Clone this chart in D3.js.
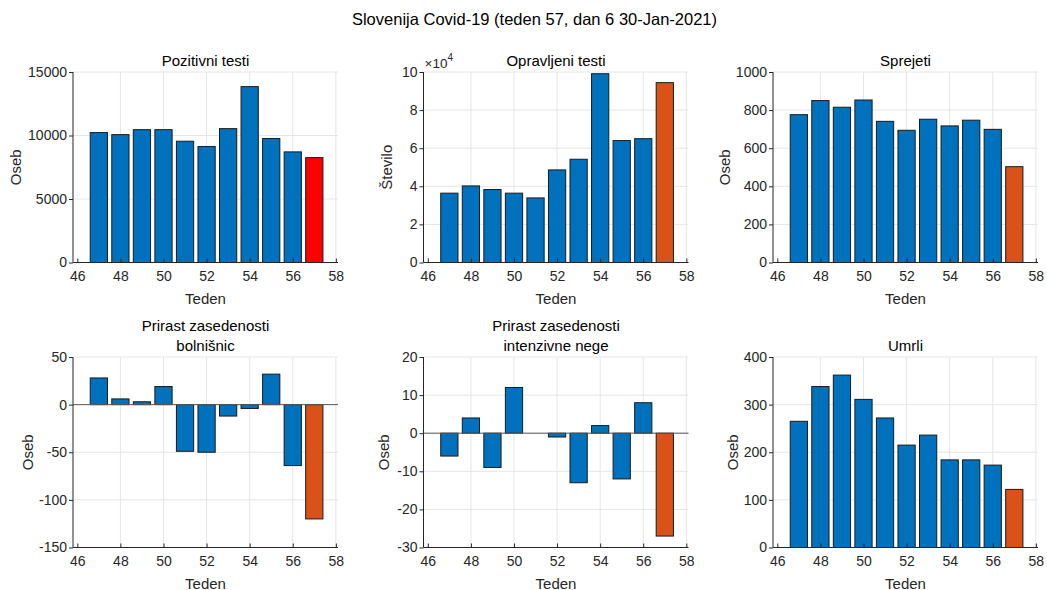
<!DOCTYPE html>
<html>
<head>
<meta charset="utf-8">
<script src="https://cdn.jsdelivr.net/npm/d3@7"></script>
<style>
  html, body { margin: 0; padding: 0; background: #fff; }
  svg { display: block; font-family: "Liberation Sans", Arial, sans-serif; }
</style>
</head>
<body>
<svg id="chart" width="1047" height="590"></svg>
<script>
// Weekly COVID-19 figures for Slovenia, weeks 47–57
const weeks = [47, 48, 49, 50, 51, 52, 53, 54, 55, 56, 57];
const pozitivniTesti = [10230, 10070, 10460, 10460, 9550, 9130, 10540, 13850, 9760, 8710, 8260];
const opravljeniTesti = [36400, 40200, 38300, 36400, 33900, 48600, 54200, 99100, 64000, 65000, 94400];
const sprejeti = [776, 850, 815, 853, 741, 694, 752, 717, 747, 699, 503];
const prirastBolnisnic = [28, 6, 3, 19, -49, -50, -12, -4, 32, -64, -120];
const prirastIntenzivne = [-6, 4, -9, 12, 0, -1, -13, 2, -12, 8, -27];
const umrli = [265, 338, 362, 311, 272, 215, 236, 184, 184, 173, 122];

// Tick labels
const xTicks = [46, 48, 50, 52, 54, 56, 58];
const yTicksPozitivni = [0, 5000, 10000, 15000];
const yTicksOpravljeni = [0, 20000, 40000, 60000, 80000, 100000];
const yTicksSprejeti = [0, 200, 400, 600, 800, 1000];
const yTicksBolnisnic = [-150, -100, -50, 0, 50];
const yTicksIntenzivne = [-30, -20, -10, 0, 10, 20];
const yTicksUmrli = [0, 100, 200, 300, 400];

const mainTitle = "Slovenija Covid-19 (teden 57, dan 6 30-Jan-2021)";
const xLabel = "Teden";

const BLUE = "#0072BD", ORANGE = "#D95319", RED = "#FF0000";
const AXIS = "#262626", GRID = "#e6e6e6";

const panels = [
  { title: ["Pozitivni testi"], ylabel: "Oseb", values: pozitivniTesti, ticks: yTicksPozitivni,
    last: RED, col: 0, row: 0, labelOff: 57 },
  { title: ["Opravljeni testi"], ylabel: "Število", values: opravljeniTesti, ticks: yTicksOpravljeni,
    last: ORANGE, col: 1, row: 0, labelOff: 37, exponent: 4 },
  { title: ["Sprejeti"], ylabel: "Oseb", values: sprejeti, ticks: yTicksSprejeti,
    last: ORANGE, col: 2, row: 0, labelOff: 48 },
  { title: ["Prirast zasedenosti", "bolnišnic"], ylabel: "Oseb", values: prirastBolnisnic, ticks: yTicksBolnisnic,
    last: ORANGE, col: 0, row: 1, labelOff: 45 },
  { title: ["Prirast zasedenosti", "intenzivne nege"], ylabel: "Oseb", values: prirastIntenzivne, ticks: yTicksIntenzivne,
    last: ORANGE, col: 1, row: 1, labelOff: 40 },
  { title: ["Umrli"], ylabel: "Oseb", values: umrli, ticks: yTicksUmrli,
    last: ORANGE, col: 2, row: 1, labelOff: 40 }
];

const colX = [73, 423.5, 773];
const rowY = [72, 357];
const plotW = 265, plotH = 190.5;

// plain hyphen for negative numbers
const intFmt = d => String(Math.round(d));

const svg = d3.select("#chart");

svg.append("text")
  .attr("x", 534.5).attr("y", 25)
  .attr("text-anchor", "middle")
  .attr("font-size", 16.5)
  .attr("fill", "#000")
  .text(mainTitle);

panels.forEach(p => {
  const g = svg.append("g").attr("transform", `translate(${colX[p.col]},${rowY[p.row]})`);
  const x = d3.scaleLinear().domain([45.8, 58.1]).range([0, plotW]);
  const y = d3.scaleLinear().domain(d3.extent(p.ticks)).range([plotH, 0]);
  const bw = x(47.4) - x(46.6);

  // grid
  g.append("g").selectAll("line").data(xTicks.filter(t => t > 46)).join("line")
    .attr("x1", d => x(d)).attr("x2", d => x(d))
    .attr("y1", 0).attr("y2", plotH)
    .attr("stroke", GRID).attr("stroke-width", 1);
  g.append("g").selectAll("line").data(p.ticks.slice(1)).join("line")
    .attr("x1", 0).attr("x2", plotW)
    .attr("y1", d => y(d)).attr("y2", d => y(d))
    .attr("stroke", GRID).attr("stroke-width", 1);

  // bars
  g.append("g").selectAll("rect").data(p.values.map((v, i) => ({ w: weeks[i], v })))
    .join("rect")
    .filter(d => d.v !== 0)
    .attr("x", d => x(d.w) - bw / 2)
    .attr("width", bw)
    .attr("y", d => Math.min(y(d.v), y(0)))
    .attr("height", d => Math.abs(y(d.v) - y(0)))
    .attr("fill", d => d.w === weeks[weeks.length - 1] ? p.last : BLUE)
    .attr("stroke", "#1a1a1a")
    .attr("stroke-width", 1);

  // baseline at zero for signed data
  if (p.ticks[0] < 0) {
    g.append("line")
      .attr("x1", 0).attr("x2", plotW)
      .attr("y1", y(0)).attr("y2", y(0))
      .attr("stroke", "#5a5a5a").attr("stroke-width", 1);
  }

  // axes
  const fmt = p.exponent ? (d => intFmt(d / Math.pow(10, p.exponent))) : intFmt;
  const yAxis = g.append("g")
    .call(d3.axisLeft(y).tickValues(p.ticks).tickFormat(fmt).tickSize(4).tickPadding(2));
  const xAxis = g.append("g").attr("transform", `translate(0,${plotH})`)
    .call(d3.axisBottom(x).tickValues(xTicks).tickFormat(intFmt).tickSize(-4).tickPadding(9));
  [yAxis, xAxis].forEach(a => {
    a.select(".domain").attr("stroke", AXIS).attr("stroke-width", 1);
    a.selectAll(".tick line").attr("stroke", AXIS);
    a.selectAll(".tick text").attr("fill", AXIS)
      .attr("font-size", 14).attr("font-family", "Liberation Sans, Arial, sans-serif");
  });
  yAxis.select(".domain").attr("d", `M0,${plotH}V0`);
  xAxis.select(".domain").attr("d", `M0,0H${plotW}`);

  if (p.exponent) {
    const e = g.append("text").attr("x", 1).attr("y", -4)
      .attr("font-size", 13.5).attr("fill", AXIS);
    e.append("tspan").text("×10");
    e.append("tspan").attr("font-size", 10).attr("dy", -7).text(p.exponent);
  }

  // titles
  const t = g.append("text")
    .attr("x", plotW / 2)
    .attr("text-anchor", "middle")
    .attr("font-size", 15)
    .attr("fill", "#000");
  const n = p.title.length;
  p.title.forEach((line, i) => {
    t.append("tspan").attr("x", plotW / 2)
      .attr("y", -6 - (n - 1 - i) * 20)
      .text(line);
  });

  // axis labels
  g.append("text")
    .attr("x", plotW / 2).attr("y", plotH + 41)
    .attr("text-anchor", "middle")
    .attr("font-size", 15).attr("fill", AXIS)
    .text(xLabel);
  g.append("text")
    .attr("transform", `translate(${-p.labelOff},${plotH / 2}) rotate(-90)`)
    .attr("dy", "0.35em")
    .attr("text-anchor", "middle")
    .attr("font-size", 15).attr("fill", AXIS)
    .text(p.ylabel);
});
</script>
</body>
</html>
